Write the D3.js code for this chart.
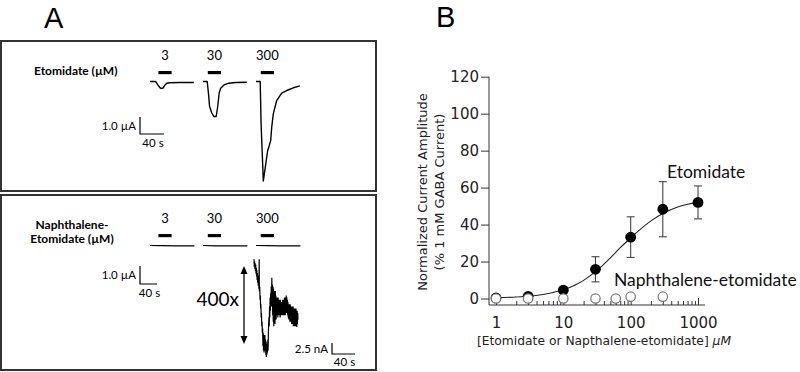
<!DOCTYPE html>
<html>
<head>
<meta charset="utf-8">
<script src="https://cdn.jsdelivr.net/npm/d3@7"></script>
<style>
  body { margin: 0; background: #fff; }
  svg { display: block; }
  .lato { font-family: Lato, "Open Sans", sans-serif; }
</style>
</head>
<body>
<svg id="fig" width="800" height="372"></svg>
<script>
// ---- panel A data ----
const concLabels = ["3", "30", "300"];
// application windows (s from trace start)
const applyWin = [[14, 36], [8, 30], [8, 30]];
// etomidate traces: [time s, current uA]
const etoTraces = [
  [[0, 0], [8, 0], [10, -0.03], [13, -0.2], [17, -0.38], [18.5, -0.41], [22, -0.38], [25, -0.2], [28, -0.1], [33, -0.07], [50, -0.06], [73, -0.06]],
  [[0, 0], [7, 0], [9, -0.66], [11, -1.47], [14.5, -1.84], [18, -2.06], [22, -2.06], [24.5, -1.47], [27, -0.66], [29.5, -0.39], [35, -0.2], [43, -0.1], [54.5, -0.06], [73, -0.04]],
  [[0, 0], [7, 0], [8.5, -2.5], [12.2, -5.85], [15.5, -5.04], [19.5, -4.06], [22.2, -3.76], [24.5, -3.47], [26.2, -2.69], [28.8, -1.9], [34.5, -1.12], [42.8, -0.69], [51.2, -0.53], [62.2, -0.37], [73, -0.26]]
];
// naphthalene-etomidate traces at 1 uA scale (flat)
const napTraces = [
  [[0, 0], [20, -0.01], [40, -0.02], [74, -0.02]],
  [[0, 0], [20, -0.02], [40, -0.02], [74, -0.02]],
  [[0, 0], [20, -0.01], [40, -0.02], [74, -0.02]]
];
// 300 uM naphthalene-etomidate trace, 400x: [time s, current nA]
const napZoom = [
  [0, -0.3], [0.5, -2], [1, -0.8], [1.5, -2.5], [2, -1.2], [2.5, -3], [3, -1.5], [3.5, -3.6], [4, -2.2], [4.5, -4.2],
  [5, -2.8], [5.5, -5], [6, -3.4], [6.5, -5.6], [7, -4], [7.5, -6.3], [8, -4.6], [8.5, -7], [9, -0.3], [9.3, -7.5],
  [10, -6.5], [10.5, -9.5], [11, -8.5], [11.5, -11.5], [12, -10.5], [12.5, -13.5], [13, -12.5], [13.5, -15.5], [14, -14.5], [14.5, -17],
  [15, -16], [15.5, -20], [16, -17], [16.5, -21], [17, -17.5], [17.5, -21.5], [18, -18], [18.5, -20.5], [19, -17.5], [19.5, -21],
  [20, -18.5], [20.5, -22], [21, -19], [21.5, -22.5], [22, -19.5], [22.5, -22], [23, -20], [23.5, -21.5], [24, -18.5], [24.5, -21],
  [25, -17], [25.5, -15], [26, -13.5], [26.5, -15.5], [27, -11], [27.5, -13.5], [28, -9], [28.5, -12], [29, -8], [29.5, -11],
  [30, -6.5], [30.5, -10], [31, -4.5], [31.5, -11], [32, -6], [32.5, -13], [33, -6.5], [33.5, -14.5], [34, -7], [34.5, -15.5],
  [35, -7.5], [35.5, -14], [36, -8], [36.5, -15], [37, -7.5], [37.5, -13.5], [38, -8.5], [38.5, -14], [39, -9], [39.5, -13],
  [40, -9], [40.5, -13], [41, -9.5], [41.5, -13.5], [42, -9], [42.5, -12.5], [43, -10], [43.5, -13], [44, -9.5], [44.5, -12.5],
  [45, -10], [45.5, -13.5], [46, -9.5], [46.5, -12.5], [47, -10], [47.5, -13], [48, -10.5], [48.5, -13], [49, -10], [49.5, -12.5],
  [50, -9.5], [50.5, -13], [51, -10], [51.5, -12.5], [52, -9.5], [52.5, -13], [53, -9], [53.5, -12.5], [54, -9.5], [54.5, -13],
  [55, -9], [55.5, -12.5], [56, -8.5], [56.5, -12], [57, -8.9], [57.5, -12.5], [58, -9.5], [58.5, -13], [59, -10], [59.5, -13.5],
  [60, -10.5], [60.5, -14], [61, -10.5], [61.5, -14], [62, -11], [62.5, -14.5], [63, -10.5], [63.5, -14], [64, -11], [64.5, -14.5],
  [65, -11.5], [65.5, -15], [66, -11], [66.5, -14.5], [67, -11.5], [67.5, -15], [68, -11], [68.5, -15.5], [69, -11.5], [69.5, -15],
  [70, -12], [70.5, -15.5], [71, -11.5], [71.5, -15], [72, -12], [72.5, -15.5], [73, -11.5], [73.5, -15], [74, -12], [74.5, -15.7],
  [75, -12], [75.5, -15], [76, -12.5], [76.5, -14]
];

// ---- panel B data ----
const etoDose = [1, 3, 10, 30, 100, 300, 1000];
const etoMean = [0.3, 1.2, 4.5, 15.8, 33.2, 48.3, 52];
const etoSem = [0, 0, 0, 6.8, 11, 14.9, 8.9];
const napDose = [1, 3, 10, 30, 60, 100, 300];
const napMean = [0, 0, 0, 0, 0, 1, 1];
const fitDose = [1, 2, 3, 5, 7, 10, 15, 20, 30, 50, 70, 100, 150, 200, 300, 500, 700, 1000];
const fitVal = [0.4, 0.8, 1.2, 2.2, 3.2, 4.7, 7.3, 9.8, 14.5, 22, 27.5, 32.8, 38.5, 42, 46, 49.5, 51, 52];
const yTicks = [0, 20, 40, 60, 80, 100, 120];
const xMajor = [1, 10, 100, 1000];

const svg = d3.select("#fig");

// ================= Panel A =================
svg.append("text").attr("x", 44).attr("y", 28)
  .attr("font-family", "Liberation Sans, Arial, sans-serif").attr("font-size", 29).text("A");

svg.append("rect").attr("x", 1).attr("y", 41).attr("width", 375).attr("height", 150)
  .attr("fill", "none").attr("stroke", "#333").attr("stroke-width", 2);
svg.append("rect").attr("x", 1).attr("y", 195).attr("width", 375).attr("height", 175)
  .attr("fill", "none").attr("stroke", "#333").attr("stroke-width", 2);

let traceX = d3.scalePoint().domain(concLabels).range([150, 256]);
let tScale = d3.scaleLinear().domain([0, 40]).range([0, 24]);

function drawBlock(g, yLabel, yBar, traces, yScale, sw) {
  let line = d3.line().x(d => tScale(d[0])).y(d => yScale(d[1]));
  concLabels.forEach((c, i) => {
    let x0 = traceX(c);
    let w = applyWin[i];
    g.append("text").attr("class", "lato")
      .attr("x", x0 + tScale((w[0] + w[1]) / 2)).attr("y", yLabel)
      .attr("text-anchor", "middle").attr("font-size", 13).text(c);
    g.append("rect")
      .attr("x", x0 + tScale(w[0])).attr("y", yBar - 1.5)
      .attr("width", tScale(w[1]) - tScale(w[0])).attr("height", 3.2).attr("fill", "#000");
    g.append("path").datum(traces[i])
      .attr("transform", `translate(${x0},0)`)
      .attr("d", line).attr("fill", "none").attr("stroke", "#000")
      .attr("stroke-width", sw).attr("stroke-linejoin", "round");
  });
}

let etoY = d3.scaleLinear().domain([0, -1]).range([81.5, 98.5]);
drawBlock(svg.append("g"), 60, 72.5, etoTraces, etoY, 1.4);

let napY = d3.scaleLinear().domain([0, -1]).range([245.5, 262.5]);
drawBlock(svg.append("g"), 223, 235.5, napTraces, napY, 1.1);

// labels
svg.append("text").attr("class", "lato").attr("x", 34).attr("y", 75)
  .attr("font-size", 12).attr("font-weight", "bold").text("Etomidate (\u00b5M)");
let nl = svg.append("text").attr("class", "lato").attr("font-size", 12)
  .attr("font-weight", "bold").attr("text-anchor", "middle");
nl.append("tspan").attr("x", 72).attr("y", 229).text("Naphthalene-");
nl.append("tspan").attr("x", 72).attr("y", 243).text("Etomidate (\u00b5M)");

// scale bars
function scaleBar(x, yb, h, w, l1, l2, ty2) {
  svg.append("path")
    .attr("d", `M${x},${yb - h}V${yb}H${x + w}`)
    .attr("fill", "none").attr("stroke", "#000").attr("stroke-width", 1.2);
  svg.append("text").attr("class", "lato").attr("x", x - 4).attr("y", yb - h / 2 + 4)
    .attr("text-anchor", "end").attr("font-size", 11.5).text(l1);
  svg.append("text").attr("class", "lato").attr("x", x + w / 2 + 1).attr("y", ty2)
    .attr("text-anchor", "middle").attr("font-size", 11.5).text(l2);
}
scaleBar(140, 134, etoY(-1) - etoY(0), tScale(40), "1.0 \u00b5A", "40 s", 147);
scaleBar(140, 284, 18, 17, "1.0 \u00b5A", "40 s", 297);

// magnified trace
let zX = d3.scaleLinear().domain([0, 40]).range([254, 277]);
let zY = d3.scaleLinear().domain([0, -2.5]).range([258, 269]);
svg.append("path").datum(napZoom)
  .attr("d", d3.line().x(d => zX(d[0])).y(d => zY(d[1])))
  .attr("fill", "none").attr("stroke", "#000").attr("stroke-width", 1.2);
scaleBar(332, 354, zY(-2.5) - zY(0), zX(40) - zX(0), "2.5 nA", "40 s", 366);

// 400x double arrow
svg.append("line").attr("x1", 244).attr("x2", 244).attr("y1", 272).attr("y2", 338)
  .attr("stroke", "#000").attr("stroke-width", 1.3);
svg.append("path").attr("d", "M244,266L240.5,274H247.5Z").attr("fill", "#000");
svg.append("path").attr("d", "M244,344L240.5,336H247.5Z").attr("fill", "#000");
svg.append("text").attr("class", "lato").attr("x", 239).attr("y", 306)
  .attr("text-anchor", "end").attr("font-size", 19).text("400x");

// ================= Panel B =================
svg.append("text").attr("x", 436).attr("y", 27)
  .attr("font-family", "Liberation Sans, Arial, sans-serif").attr("font-size", 29).text("B");

let x = d3.scaleLog().domain([0.787, 1270]).range([489, 705]);
let y = d3.scaleLinear().domain([0, 120]).range([298.5, 76.7]);
const axisY = 305;

let gy = svg.append("g")
  .attr("transform", "translate(489,0)")
  .call(d3.axisLeft(y).tickValues(yTicks).tickSize(8).tickSizeOuter(0).tickPadding(2));
gy.select(".domain").remove();
gy.attr("font-family", "DejaVu Sans").attr("font-size", 15);
gy.selectAll("text").attr("fill", "#222");
gy.selectAll("line").attr("stroke", "#333");
svg.append("line").attr("x1", 489).attr("x2", 489).attr("y1", y(120)).attr("y2", axisY)
  .attr("stroke", "#333");

let minor = [];
for (let d of [1, 10, 100]) for (let k = 2; k <= 9; k++) minor.push(d * k);
let gxm = svg.append("g").attr("transform", `translate(0,${axisY})`)
  .call(d3.axisBottom(x).tickValues(minor).tickSize(-4).tickFormat(""));
gxm.select(".domain").remove();
gxm.selectAll("line").attr("stroke", "#333");
let gx = svg.append("g").attr("transform", `translate(0,${axisY})`)
  .call(d3.axisBottom(x).tickValues(xMajor).tickSize(-7).tickSizeOuter(0).tickFormat(d3.format("d")).tickPadding(12));
gx.attr("font-family", "DejaVu Sans").attr("font-size", 15);
gx.select(".domain").attr("d", "M489,0H705").attr("stroke", "#333");
gx.selectAll("line").attr("stroke", "#333");
gx.selectAll("text").attr("fill", "#222");

// axis titles
let yl = svg.append("text").attr("font-family", "DejaVu Sans").attr("font-size", 13)
  .attr("fill", "#222").attr("text-anchor", "middle")
  .attr("transform", "translate(427,192) rotate(-90)");
yl.append("tspan").attr("x", 0).attr("y", 0).text("Normalized Current  Amplitude");
yl.append("tspan").attr("x", 0).attr("y", 17).text("(% 1 mM GABA Current)");

let xl = svg.append("text").attr("font-family", "DejaVu Sans").attr("font-size", 12.3)
  .attr("fill", "#222").attr("text-anchor", "middle").attr("x", 604).attr("y", 345);
xl.append("tspan").text("[Etomidate or Napthalene-etomidate] ");
xl.append("tspan").attr("font-style", "italic").text("\u00b5M");

// fit curve
svg.append("path").datum(fitDose.map((d, i) => [d, fitVal[i]]))
  .attr("d", d3.line().x(d => x(d[0])).y(d => y(d[1])).curve(d3.curveMonotoneX))
  .attr("fill", "none").attr("stroke", "#222").attr("stroke-width", 1.1);

// error bars
let eto = etoDose.map((d, i) => ({ dose: d, mean: etoMean[i], sem: etoSem[i] }));
let eb = svg.append("g").selectAll("g").data(eto.filter(d => d.sem > 0)).join("g")
  .attr("stroke", "#444").attr("stroke-width", 1.1);
eb.append("line").attr("x1", d => x(d.dose)).attr("x2", d => x(d.dose))
  .attr("y1", d => y(d.mean - d.sem)).attr("y2", d => y(d.mean + d.sem));
eb.append("line").attr("x1", d => x(d.dose) - 4).attr("x2", d => x(d.dose) + 4)
  .attr("y1", d => y(d.mean + d.sem)).attr("y2", d => y(d.mean + d.sem));
eb.append("line").attr("x1", d => x(d.dose) - 4).attr("x2", d => x(d.dose) + 4)
  .attr("y1", d => y(d.mean - d.sem)).attr("y2", d => y(d.mean - d.sem));

svg.append("g").selectAll("circle").data(eto).join("circle")
  .attr("cx", d => x(d.dose)).attr("cy", d => y(d.mean)).attr("r", 5.4).attr("fill", "#000");

svg.append("g").selectAll("circle").data(napDose.map((d, i) => ({ dose: d, mean: napMean[i] }))).join("circle")
  .attr("cx", d => x(d.dose)).attr("cy", d => y(d.mean)).attr("r", 4.7)
  .attr("fill", "#fff").attr("stroke", "#777").attr("stroke-width", 1.2);

svg.append("text").attr("class", "lato").attr("x", 667).attr("y", 178)
  .attr("font-size", 17.5).attr("fill", "#111").text("Etomidate");
svg.append("text").attr("class", "lato").attr("x", 614).attr("y", 286)
  .attr("font-size", 17.5).attr("fill", "#111").text("Naphthalene-etomidate");
</script>
</body>
</html>
